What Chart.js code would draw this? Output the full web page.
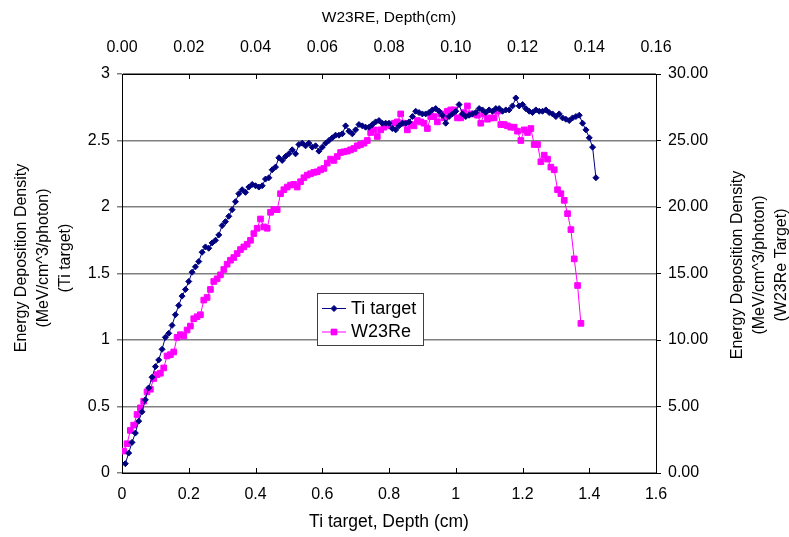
<!DOCTYPE html>
<html>
<head>
<meta charset="utf-8">
<script src="https://cdn.jsdelivr.net/npm/chart.js@4.4.1/dist/chart.umd.min.js"></script>
<style>
  html, body { margin: 0; padding: 0; background: #fff; }
  canvas { display: block; }
</style>
</head>
<body>
<canvas id="chart" width="789" height="537"></canvas>
<script>
// Ti target : depth (cm) and energy deposition density (MeV/cm^3/photon)
const tiDepth = [
  0.01, 0.02, 0.03, 0.04, 0.05, 0.06, 0.07, 0.08, 0.09, 0.10,
  0.11, 0.12, 0.13, 0.14, 0.15, 0.16, 0.17, 0.18, 0.19, 0.20,
  0.21, 0.22, 0.23, 0.24, 0.25, 0.26, 0.27, 0.28, 0.29, 0.30,
  0.31, 0.32, 0.33, 0.34, 0.35, 0.36, 0.37, 0.38, 0.39, 0.40,
  0.41, 0.42, 0.43, 0.44, 0.45, 0.46, 0.47, 0.48, 0.49, 0.50,
  0.51, 0.52, 0.53, 0.54, 0.55, 0.56, 0.57, 0.58, 0.59, 0.60,
  0.61, 0.62, 0.63, 0.64, 0.65, 0.66, 0.67, 0.68, 0.69, 0.70,
  0.71, 0.72, 0.73, 0.74, 0.75, 0.76, 0.77, 0.78, 0.79, 0.80,
  0.81, 0.82, 0.83, 0.84, 0.85, 0.86, 0.87, 0.88, 0.89, 0.90,
  0.91, 0.92, 0.93, 0.94, 0.95, 0.96, 0.97, 0.98, 0.99, 1.00,
  1.01, 1.02, 1.03, 1.04, 1.05, 1.06, 1.07, 1.08, 1.09, 1.10,
  1.11, 1.12, 1.13, 1.14, 1.15, 1.16, 1.17, 1.18, 1.19, 1.20,
  1.21, 1.22, 1.23, 1.24, 1.25, 1.26, 1.27, 1.28, 1.29, 1.30,
  1.31, 1.32, 1.33, 1.34, 1.35, 1.36, 1.37, 1.38, 1.39, 1.40,
  1.41, 1.42
]
const tiDensity = [
  0.07, 0.15, 0.23, 0.30, 0.39, 0.46, 0.55, 0.64, 0.72, 0.80,
  0.85, 0.93, 1.02, 1.05, 1.11, 1.19, 1.26, 1.33, 1.38, 1.44,
  1.51, 1.55, 1.59, 1.66, 1.70, 1.69, 1.73, 1.75, 1.79, 1.86,
  1.89, 1.93, 1.98, 2.04, 2.10, 2.13, 2.11, 2.15, 2.17, 2.16,
  2.15, 2.16, 2.21, 2.22, 2.28, 2.30, 2.37, 2.35, 2.38, 2.40,
  2.43, 2.40, 2.47, 2.48, 2.46, 2.48, 2.45, 2.46, 2.42, 2.45,
  2.48, 2.50, 2.52, 2.54, 2.54, 2.55, 2.61, 2.57, 2.55, 2.58,
  2.62, 2.61, 2.60, 2.60, 2.62, 2.64, 2.65, 2.63, 2.63, 2.63,
  2.59, 2.58, 2.61, 2.63, 2.63, 2.64, 2.68, 2.72, 2.71, 2.70,
  2.70, 2.71, 2.73, 2.74, 2.72, 2.69, 2.63, 2.68, 2.70, 2.72,
  2.77, 2.70, 2.68, 2.69, 2.70, 2.71, 2.74, 2.73, 2.71, 2.73,
  2.72, 2.74, 2.74, 2.72, 2.73, 2.73, 2.76, 2.82, 2.76, 2.77,
  2.74, 2.72, 2.71, 2.73, 2.72, 2.72, 2.73, 2.71, 2.70, 2.68,
  2.70, 2.67, 2.66, 2.65, 2.67, 2.68, 2.69, 2.63, 2.58, 2.52,
  2.45, 2.22
]

// W23Re target : depth (cm) and energy deposition density (MeV/cm^3/photon)
const wDepth = [
  0.0005, 0.0015, 0.0025, 0.0035, 0.0045, 0.0055, 0.0065, 0.0075, 0.0085, 0.0095,
  0.0105, 0.0115, 0.0125, 0.0135, 0.0145, 0.0155, 0.0165, 0.0175, 0.0185, 0.0195,
  0.0205, 0.0215, 0.0225, 0.0235, 0.0245, 0.0255, 0.0265, 0.0275, 0.0285, 0.0295,
  0.0305, 0.0315, 0.0325, 0.0335, 0.0345, 0.0355, 0.0365, 0.0375, 0.0385, 0.0395,
  0.0405, 0.0415, 0.0425, 0.0435, 0.0445, 0.0455, 0.0465, 0.0475, 0.0485, 0.0495,
  0.0505, 0.0515, 0.0525, 0.0535, 0.0545, 0.0555, 0.0565, 0.0575, 0.0585, 0.0595,
  0.0605, 0.0615, 0.0625, 0.0635, 0.0645, 0.0655, 0.0665, 0.0675, 0.0685, 0.0695,
  0.0705, 0.0715, 0.0725, 0.0735, 0.0745, 0.0755, 0.0765, 0.0775, 0.0785, 0.0795,
  0.0805, 0.0815, 0.0825, 0.0835, 0.0845, 0.0855, 0.0865, 0.0875, 0.0885, 0.0895,
  0.0905, 0.0915, 0.0925, 0.0935, 0.0945, 0.0955, 0.0965, 0.0975, 0.0985, 0.0995,
  0.1005, 0.1015, 0.1025, 0.1035, 0.1045, 0.1055, 0.1065, 0.1075, 0.1085, 0.1095,
  0.1105, 0.1115, 0.1125, 0.1135, 0.1145, 0.1155, 0.1165, 0.1175, 0.1185, 0.1195,
  0.1205, 0.1215, 0.1225, 0.1235, 0.1245, 0.1255, 0.1265, 0.1275, 0.1285, 0.1295,
  0.1305, 0.1315, 0.1325, 0.1335, 0.1345, 0.1355, 0.1365, 0.1375
]
const wDensity = [
  1.65, 2.2, 3.2, 3.6, 4.4, 4.9, 5.4, 6.1, 6.3, 7.1,
  7.4, 7.5, 7.9, 8.8, 8.9, 9.1, 10.2, 10.4, 10.3, 10.75,
  11.05, 11.6, 11.75, 11.9, 13.0, 13.2, 13.8, 14.4, 14.6, 14.9,
  15.3, 15.7, 16.0, 16.2, 16.5, 16.8, 17.0, 17.2, 17.5, 18.0,
  18.4, 19.1, 18.5, 18.4, 19.6, 19.8, 19.8, 21.0, 21.3, 21.5,
  21.65, 21.7, 21.5, 21.9, 22.2, 22.4, 22.5, 22.6, 22.65, 22.8,
  22.9, 23.3, 23.6, 23.5, 23.8, 24.1, 24.15, 24.2, 24.3, 24.4,
  24.6, 24.7, 24.8, 25.0, 25.6, 25.8, 25.3, 25.8, 26.0, 26.2,
  26.1, 26.3, 26.4, 27.0, 26.3, 25.8, 26.2, 26.1, 26.5, 26.4,
  26.3, 25.9, 26.8, 26.8, 26.4, 27.0, 26.7, 27.2, 27.3, 27.3,
  26.7, 26.7, 27.1, 27.6, 27.0, 27.0, 26.9, 26.3, 27.0, 26.6,
  26.7, 26.7, 27.2, 26.2, 26.2, 26.1, 26.0, 26.0, 25.7, 25.0,
  25.8, 25.6, 25.9, 24.7, 24.7, 23.4, 23.9, 23.6, 23.0, 22.8,
  21.3, 21.0, 20.5, 19.5, 18.3, 16.1, 14.1, 11.25
]

const seriesNames = ["Ti target", "W23Re"]
const leftTitle = ["Energy Deposition Density", "(MeV/cm^3/photon)", "(Ti target)"]
const rightTitle = ["Energy Deposition Density", "(MeV/cm^3/photon)", "(W23Re Target)"]
const bottomTitle = "Ti target, Depth (cm)"
const topTitle = "W23RE, Depth(cm)"

const FONT = "'Liberation Sans', Arial, sans-serif"
Chart.defaults.font.family = FONT
Chart.defaults.color = "#000"

const tiPoints = tiDepth.map((d, i) => ({ x: d, y: tiDensity[i] }))
const wPoints = wDepth.map((d, i) => ({ x: d, y: wDensity[i] }))

// petites graduations tournees vers l'interieur sur les axes horizontaux
const insideTicks = {
    id: "insideTicks",
    afterDraw(chart) {
        const ctx = chart.ctx
        const area = chart.chartArea
        ctx.save()
        ctx.strokeStyle = "#000"
        ctx.lineWidth = 1
        for (const id of ["x", "x2"]) {
            const scale = chart.scales[id]
            for (const t of scale.ticks) {
                const px = Math.round(scale.getPixelForValue(t.value)) + 0.5
                ctx.beginPath()
                if (id === "x") {
                    ctx.moveTo(px, area.bottom)
                    ctx.lineTo(px, area.bottom - 5)
                } else {
                    ctx.moveTo(px, area.top)
                    ctx.lineTo(px, area.top + 5)
                }
                ctx.stroke()
            }
        }
        ctx.restore()
    }
}

// titres verticaux sur trois lignes (gauche et droite)
const sideTitles = {
    id: "sideTitles",
    afterDraw(chart) {
        const ctx = chart.ctx
        ctx.save()
        ctx.font = "16px " + FONT
        ctx.fillStyle = "#000"
        ctx.textAlign = "center"
        ctx.textBaseline = "middle"
        const draw = (lines, xs, cy) => {
            lines.forEach((txt, i) => {
                ctx.save()
                ctx.translate(xs[i], cy)
                ctx.rotate(-Math.PI / 2)
                ctx.fillText(txt, 0, 0)
                ctx.restore()
            })
        }
        draw(leftTitle, [22, 44, 66], 258)
        draw(rightTitle, [738, 760, 782], 265)
        ctx.restore()
    }
}

// legende encadree dans la zone du graphique
const boxLegend = {
    id: "boxLegend",
    afterDraw(chart) {
        const ctx = chart.ctx
        const x0 = 317, y0 = 293, w = 106, h = 52
        ctx.save()
        ctx.fillStyle = "#fff"
        ctx.fillRect(x0, y0, w, h)
        ctx.strokeStyle = "#404040"
        ctx.lineWidth = 1
        ctx.strokeRect(x0 + 0.5, y0 + 0.5, w, h)
        ctx.font = "18px " + FONT
        ctx.textBaseline = "middle"
        ctx.textAlign = "left"
        chart.data.datasets.forEach((ds, i) => {
            const cy = y0 + 15 + i * 23.5
            ctx.strokeStyle = ds.borderColor
            ctx.lineWidth = 1
            ctx.beginPath()
            ctx.moveTo(x0 + 5, cy + 0.5)
            ctx.lineTo(x0 + 29, cy + 0.5)
            ctx.stroke()
            Chart.helpers.drawPoint(ctx, {
                pointStyle: ds.pointStyle,
                radius: ds.pointRadius,
                borderWidth: 1
            }, x0 + 17, cy + 0.5)
            ctx.fillStyle = ds.pointBackgroundColor
            ctx.fill()
            ctx.fillStyle = "#000"
            ctx.fillText(ds.label, x0 + 34, cy + 1)
        })
        ctx.restore()
    }
}

new Chart(document.getElementById("chart"), {
    type: "scatter",
    data: {
        datasets: [{
            label: seriesNames[0],
            data: tiPoints,
            xAxisID: "x",
            yAxisID: "y",
            showLine: true,
            borderColor: "#000080",
            borderWidth: 1,
            pointStyle: "rectRot",
            pointRadius: 3,
            pointBackgroundColor: "#000080",
            pointBorderColor: "#000080",
            pointBorderWidth: 1
        }, {
            label: seriesNames[1],
            data: wPoints,
            xAxisID: "x2",
            yAxisID: "y2",
            showLine: true,
            borderColor: "#ff00ff",
            borderWidth: 1,
            pointStyle: "rect",
            pointRadius: 4,
            pointBackgroundColor: "#ff00ff",
            pointBorderColor: "#ff00ff",
            pointBorderWidth: 1
        }]
    },
    options: {
        responsive: false,
        animation: false,
        devicePixelRatio: 1,
        layout: { padding: 0 },
        plugins: {
            legend: { display: false },
            tooltip: { enabled: false }
        },
        scales: {
            x: {
                type: "linear",
                position: "bottom",
                min: 0,
                max: 1.6,
                ticks: { stepSize: 0.2, padding: 12, font: { size: 16 }, callback: v => String(+v.toFixed(2)) },
                grid: { drawOnChartArea: false, drawTicks: false },
                border: { color: "#000", width: 1 },
                title: { display: true, text: bottomTitle, font: { size: 17.5 }, padding: { top: 0, bottom: 4 } },
                afterFit: s => { s.height = 64 }
            },
            x2: {
                type: "linear",
                position: "top",
                min: 0,
                max: 0.16,
                ticks: { stepSize: 0.02, padding: 17, font: { size: 16 }, callback: v => v.toFixed(2) },
                grid: { drawOnChartArea: false, drawTicks: false },
                border: { color: "#000", width: 1 },
                title: { display: true, text: topTitle, font: { size: 15.5 }, padding: { top: 8, bottom: 0 } },
                afterFit: s => { s.height = 74 }
            },
            y: {
                type: "linear",
                position: "left",
                min: 0,
                max: 3,
                ticks: { stepSize: 0.5, padding: 7, font: { size: 16 }, callback: v => String(+v.toFixed(2)) },
                grid: { color: "#808080", lineWidth: 1.5, tickLength: 5 },
                border: { color: "#000", width: 1 },
                afterFit: s => { s.width = 122 }
            },
            y2: {
                type: "linear",
                position: "right",
                min: 0,
                max: 30,
                ticks: { stepSize: 5, padding: 7, font: { size: 16 }, callback: v => v.toFixed(2) },
                grid: { drawOnChartArea: false, color: "#000", tickLength: 5 },
                border: { color: "#000", width: 1 },
                afterFit: s => { s.width = 133 }
            }
        }
    },
    plugins: [insideTicks, sideTitles, boxLegend]
})
</script>
</body>
</html>
